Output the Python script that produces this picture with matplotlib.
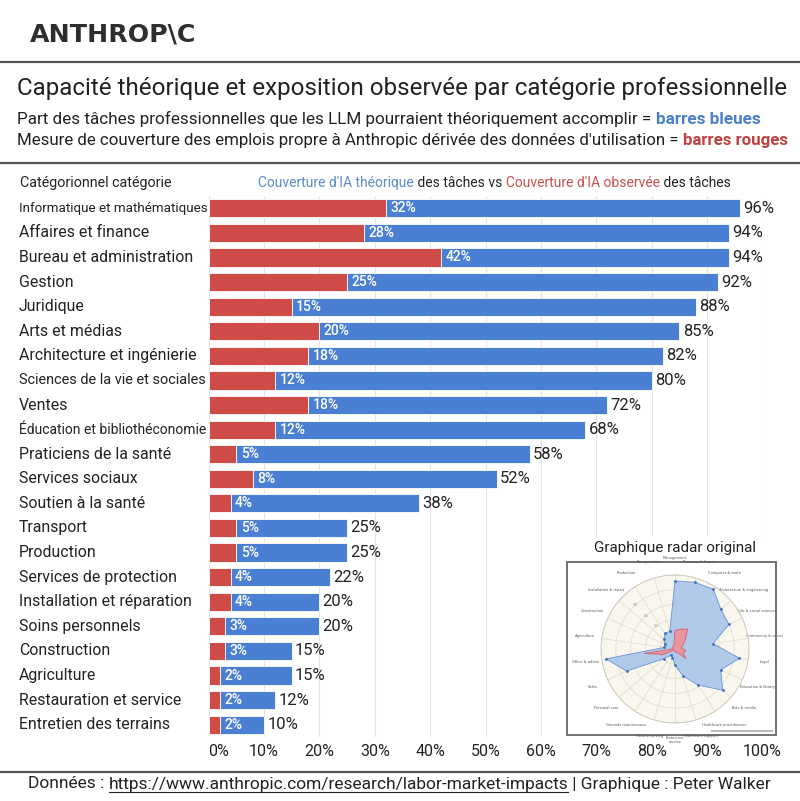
import numpy as np
import matplotlib
matplotlib.use("Agg")
import matplotlib.pyplot as plt
import matplotlib.transforms as mtransforms
from matplotlib.lines import Line2D
from matplotlib.patches import Rectangle

W, H = 800, 801

# data
categories = [
    "Informatique et mathématiques", "Affaires et finance", "Bureau et administration",
    "Gestion", "Juridique", "Arts et médias", "Architecture et ingénierie",
    "Sciences de la vie et sociales", "Ventes", "Éducation et bibliothéconomie",
    "Praticiens de la santé", "Services sociaux", "Soutien à la santé", "Transport",
    "Production", "Services de protection", "Installation et réparation",
    "Soins personnels", "Construction", "Agriculture", "Restauration et service",
    "Entretien des terrains",
]
theoretical = [96, 94, 94, 92, 88, 85, 82, 80, 72, 68, 58, 52, 38, 25, 25, 22, 20, 20, 15, 15, 12, 10]
observed = [32, 28, 42, 25, 15, 20, 18, 12, 18, 12, 5, 8, 4, 5, 5, 4, 4, 3, 3, 2, 2, 2]
x_ticks = [0, 10, 20, 30, 40, 50, 60, 70, 80, 90, 100]

# original radar: same categories, clockwise from the top
radar_order = [
    "Gestion", "Affaires et finance", "Informatique et mathématiques",
    "Architecture et ingénierie", "Sciences de la vie et sociales", "Services sociaux",
    "Juridique", "Éducation et bibliothéconomie", "Arts et médias",
    "Praticiens de la santé", "Soutien à la santé", "Services de protection",
    "Restauration et service", "Entretien des terrains", "Soins personnels", "Ventes",
    "Bureau et administration", "Agriculture", "Construction",
    "Installation et réparation", "Production", "Transport",
]
radar_labels = [
    "Management", "Business & finance", "Computer & math", "Architecture & engineering",
    "Life & social sciences", "Community & social", "Legal", "Education & library",
    "Arts & media", "Healthcare practitioners", "Healthcare support", "Protective\nservice",
    "Food & serving", "Grounds maintenance", "Personal care", "Sales", "Office & admin",
    "Agriculture", "Construction", "Installation & repair", "Production", "Transportation",
]

RED = "#cf4b48"
BLUE = "#4a7fd3"
TXT = "#222222"
BODY = ["Roboto", "DejaVu Sans"]


def fx(x):
    return x / W


def fy(y):
    return 1 - y / H


fig = plt.figure(figsize=(W / 100, H / 100), dpi=100)
fig.patch.set_facecolor("white")
renderer = fig.canvas.get_renderer()


def text_width(s, size, family, weight):
    t = fig.text(0, 0, s, fontsize=size, family=family, weight=weight)
    w = t.get_window_extent(renderer).width
    t.remove()
    return w


def advance(s, size, family, weight):
    # width including trailing spaces
    return text_width(s + "I", size, family, weight) - text_width("I", size, family, weight)


def fit_line(x, y, segments, width, family):
    """segments: list of (text, color, weight); left edge x px, centre y px"""
    base = 10
    total = sum(advance(s, base, family, wt) for s, c, wt in segments)
    size = base * width / total
    cx = x
    out = []
    for s, c, wt in segments:
        t = fig.text(fx(cx), fy(y), s, fontsize=size, family=family, weight=wt,
                     color=c, va="center", ha="left")
        out.append((t, cx))
        cx += advance(s, size, family, wt)
    return out, size


def hline(y, color="#555555", lw=1.6):
    fig.add_artist(Line2D([0, 1], [fy(y), fy(y)], transform=fig.transFigure,
                          color=color, lw=lw))


# header
fit_line(30, 35, [("ANTHROP\\C", "#2e2e2e", "bold")], 167, ["DejaVu Sans"])
hline(62)
fit_line(17, 89, [("Capacité théorique et exposition observée par catégorie professionnelle", TXT, "normal")], 770, BODY)
fit_line(17, 119, [("Part des tâches professionnelles que les LLM pourraient théoriquement accomplir = ", TXT, "normal"),
                   ("barres bleues", "#4a7fc9", "bold")], 745, BODY)
fit_line(17, 141, [("Mesure de couverture des emplois propre à Anthropic dérivée des données d'utilisation = ", TXT, "normal"),
                   ("barres rouges", "#c0403f", "bold")], 776, BODY)
hline(163)

fit_line(20, 183, [("Catégorionnel catégorie", TXT, "normal")], 151, BODY)
fit_line(258, 183, [("Couverture d'IA théorique", "#5b8bc9", "normal"),
                    (" des tâches vs ", TXT, "normal"),
                    ("Couverture d'IA observée", "#c9504d", "normal"),
                    (" des tâches", TXT, "normal")], 473, BODY)

# main bar chart
ax = fig.add_axes([fx(208.5), fy(737), 554 / W, 541 / H])
ypos = np.arange(len(categories))
obs = np.array(observed)
theo = np.array(theoretical)
ax.barh(ypos, obs, height=0.74, color=RED, edgecolor="white", linewidth=0.6, zorder=3)
ax.barh(ypos, theo - obs, left=obs, height=0.74, color=BLUE, edgecolor="white",
        linewidth=0.6, zorder=3)
ax.set_xlim(0, 100)
ax.set_ylim(len(categories) - 0.5, -0.5)
ax.set_yticks([])
ax.set_xticks(x_ticks)
ax.set_xticklabels([f"{t}%" for t in x_ticks], fontsize=11.5, family=BODY, color=TXT)
ax.get_xticklabels()[0].set_ha("left")
ax.tick_params(axis="x", length=0, pad=5)
ax.grid(axis="x", color="#e4e4e4", lw=0.8, zorder=0)
for sp in ax.spines.values():
    sp.set_visible(False)

for i in range(len(categories)):
    ax.text(obs[i] + 0.8, i, f"{obs[i]}%", color="white", fontsize=10, family=BODY,
            weight="medium", va="center", ha="left", zorder=4)
    ax.text(theo[i] + 0.6, i, f"{theo[i]}%", color=TXT, fontsize=12, family=BODY,
            va="center", ha="left", zorder=4)

# category labels, shrunk when too long
lab_tr = mtransforms.blended_transform_factory(fig.transFigure, ax.transData)
base = 10 * 131 / text_width("Affaires et finance", 10, BODY, "normal")
for i, name in enumerate(categories):
    w = text_width(name, base, BODY, "normal")
    size = min(base, base * 188 / w)
    ax.text(fx(19), i, name, transform=lab_tr, fontsize=size, family=BODY, color=TXT,
            va="center", ha="left", clip_on=False)

# inset with the original radar chart
fig.add_artist(Rectangle((fx(558), fy(740)), 228 / W, 203 / H, transform=fig.transFigure,
                         facecolor="white", edgecolor="none", zorder=1))
fig.add_artist(Rectangle((fx(567), fy(735)), 209 / W, 173 / H, transform=fig.transFigure,
                         facecolor="white", edgecolor="#666666", lw=1.3, zorder=1.1))
fig.add_artist(Line2D([fx(712), fx(772)], [fy(731), fy(731)], transform=fig.transFigure,
                      color="#bbbbbb", lw=1.5, zorder=1.2))
fit_line(594, 548, [("Graphique radar original", TXT, "normal")], 163, BODY)

r_theo = [theoretical[categories.index(c)] for c in radar_order]
r_obs = [observed[categories.index(c)] for c in radar_order]
theta = np.linspace(0, 2 * np.pi, len(radar_order), endpoint=False)
th_c = np.append(theta, theta[0])

cx, cy, rad = 675, 649, 74
axr = fig.add_axes([fx(cx - rad), fy(cy + rad), 2 * rad / W, 2 * rad / H],
                   projection="polar", zorder=3)
axr.set_theta_zero_location("N")
axr.set_theta_direction(-1)
axr.set_facecolor("#f9f6ee")
axr.fill(th_c, np.append(r_theo, r_theo[0]), facecolor="#a9c6ea", edgecolor="#5b8bd0",
         lw=0.6, alpha=0.9, zorder=2)
axr.plot(theta, r_theo, "o", ms=1.0, color="#3d6fb8", zorder=3)
axr.fill(th_c, np.append(r_obs, r_obs[0]), facecolor="#ef909a", edgecolor="#d9545f",
         lw=0.6, alpha=0.9, zorder=4)
axr.set_ylim(0, 100)
axr.set_yticks([20, 40, 60, 80, 100])
axr.set_yticklabels(["0.2", "0.4", "0.6", "0.8", ""], fontsize=2.2, color="#888888")
axr.set_rlabel_position(-45)
axr.set_xticks(theta)
axr.set_xticklabels(radar_labels, fontsize=2.6, color="#555555", linespacing=0.9)
axr.tick_params(axis="x", pad=1.5)
axr.grid(color="#dedad0", lw=0.5)
axr.spines["polar"].set_color("#c9c3b2")
axr.spines["polar"].set_linewidth(0.6)

# footer
hline(772)
parts, fsize = fit_line(28, 784, [("Données : ", TXT, "normal"),
                                  ("https://www.anthropic.com/research/labor-market-impacts", TXT, "normal"),
                                  (" | Graphique : Peter Walker", TXT, "normal")], 743, BODY)
url_t, url_x = parts[1]
url_w = text_width(url_t.get_text(), fsize, BODY, "normal")
fig.add_artist(Line2D([fx(url_x), fx(url_x + url_w)], [fy(791.5), fy(791.5)],
                      transform=fig.transFigure, color=TXT, lw=0.8))

fig.savefig("out.png", dpi=100, facecolor="white")
